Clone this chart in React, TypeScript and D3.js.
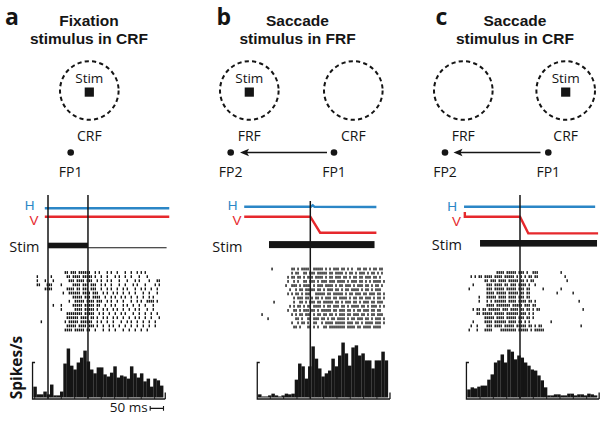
import React from 'react';
import * as d3 from 'd3';

// timing: histogram bins and raster columns, in ms
const BIN_MS = 12.5;
const RASTER_MS = 7.5;
const PX_PER_MS = 0.2665;
const TICK_MS = 50;
const SCALE_BAR_MS = 50;

// PSTH, spikes/s per bin (bracket = 100 spikes/s)
const HIST_A = [31, 9, 9, 17, 9, 37, 6, 6, 17, 97, 140, 91, 80, 100, 114, 134, 103, 80, 69, 86, 86, 66, 60, 71, 89, 57, 63, 60, 54, 89, 69, 57, 69, 46, 54, 31, 54, 49, 34];
const HIST_B = [9, 3, 3, 6, 11, 6, 3, 6, 11, 9, 11, 51, 97, 89, 54, 89, 146, 111, 83, 60, 69, 77, 111, 89, 120, 157, 126, 91, 143, 149, 120, 126, 106, 106, 83, 106, 106, 131, 106];
const HIST_C = [23, 29, 26, 31, 34, 34, 51, 66, 100, 106, 123, 100, 137, 131, 109, 120, 114, 100, 91, 80, 77, 63, 49, 29, 6, 6, 9, 9, 6, 6, 11, 11, 6, 9, 9, 6, 11, 9, 6];

// first bin edge relative to the alignment event (ms)
const START_A = -55;
const START_B = -196;
const START_C = -198;

// rasters: one string per trial, '|' = spike in a 7.5 ms column
const RASTER_A = [
  '................||.|||.||||||..|.|...|.|..|...|..|..|.|.|..........',
  '..|......|.......||.||||.|||||.|..|..|...|.|..|..|...|...|.........',
  '..|...|...|.......|||.||||.|||..|.|..|.|...|...|...|.|....|...||...',
  '..||...|||....|.....||||.|||.|||..|.|..|...|..|...|.|...|....|.|...',
  '......||||.......||||.||.|||.|||..|..|.|..|..|.|...|..|.|..|..|....',
  '...............|..||||||.||||.|||..|.|..|.|..|..|..|...|..|...|....',
  '....................|||||.|||.||||..|..|.|..|.|..|..|..|..|.|......',
  '..................|..|||||.||||.|||..|.|..|..|...|..|.|..||||.|....',
  '..........|...|.....|||||.|||||.||..|..|.|...|.|..|..|..|...|......',
  '..............|......||||.|||||.|..|.|..|.|..|..|..|.|...|..|......',
  '.................||||||||.|||||..|.|..|..|..|.|...|..|..|..|..|.....',
  '.................||||||.||||.||.|..|.|..|.|..|..|..|.|..|..|...|....',
  '....|...........|.|||||.||||||..|.|..|..|...|..|.|..|..|..|..|.....',
  '.................|||||.||||.|||.|..|..|.|..|..|..|..|..|..|..|......',
  '................||||.|||||.||..|...|..|..|...|..|..|..|..|.........',
];
const RASTER_B = [
  '.......|.........||.|.||||..|||||.|.|.|||.||.|.|..||.||.|.||.||..',
  '.................|.||..||.|||.|||||.||.||||.|.||.|.|||.|.||.|.|...',
  '...............|.||.||.|.|||.||||.|.||.|||.||.|.||.||.|||.||.|...',
  '...............|..|.|..||.|||.|.|||.|||.||||.|.|||.||.|.|.||||.|.',
  '..............|..|||.|.||||.|.|||.||||.|.||.|||.|.|||.||.|.||.|..',
  '................|..|.||.|||||.||.|.|||.||.|.||.||||.|.||.|.|||...',
  '...............|.|.||.|.|||..|||||.||.|||||.|.||.|||.||.|||.||.|.',
  '..................|.|||.||.|.||.|.|||.||.||||.|.||.||.|||.|.||.|.',
  '........|.........|..||.|.|||.||.|||||.||.|.|||.||.|.|||.||.|||..',
  '................|.|.||.|.||.||||.|.||.|||.||.|.||||.||.|.|||.|.|.',
  '...............|..||.|.|||.||.|.|||||.||.|||.||.|.||.|||.||.||...',
  '..|..............|.|.||.|||.|.||.||.||.|.|||.||.|||.||.|.||.|||..',
  '.....|.............||.|..||.|||.||.|.||.||||.|.||.|||.||.|.|||.|.',
  '.................|..|.||.|..||..|.||||.|||||.|||.||.|.||||.|||.|..',
  '..................||.|...||.|.|..||.||||||||.||||.||.||||.||||...',
];
const RASTER_C = [
  '...............||||.|||||.|||.|..|||...........|.................',
  '..|.|.||.||||.||||.|||||.|.|.|.||.||.............|...............',
  '.........||.|||.||||.|||||.||.|.||................|..............',
  '...|......|||.||||.||.|||.||||.|..|..............................',
  '.|........|||.|||||.|||||.|||.||......|........|.................',
  '..........||||.|||||.|||||.||.||.............|.......|...........',
  '......|...|||||.||||.||||.|||.||.................................',
  '......|...|.|.||||||.||||.||||.||.|.....................|........',
  '..........||||.|||||||.|||||.|||.||..............................',
  '...|.||.||.||||||.|||.||||.||.||.|.||.....................|......',
  '.....||.|||||.|||||.||||||.|||.|.|...............................',
  '.........|||||.||||.|||||.|||.||.|...............................',
  '...|.....||||.||||||.||||.||.|.|..........|......................',
  '..|..|....|||.||||.|||||.|||||.||.|.||...................|.......',
  '.|...|...||||....||||||||.|||||.|.|||||..........................',
];

// eye position traces [ms, deg]
const EYE_H_A: [number, number][] = [[-12, 0], [455, 0]];
const EYE_V_A: [number, number][] = [[-12, 0], [455, 0]];
const EYE_H_B: [number, number][] = [[-248, 0], [2, 0], [9, 0.9], [16, -0.1], [248, -0.2]];
const EYE_V_B: [number, number][] = [[-248, 0], [0, 0], [37, -10], [248, -10]];
const EYE_H_C: [number, number][] = [[-210, 0], [282, 0]];
const EYE_V_C: [number, number][] = [[-207, 3], [-207, 0], [0, 0], [31, -10.4], [293, -10.4]];

// stimulus on / off (ms), and the thin trace after offset in a
const STIM_ON = [0, -155, -150];
const STIM_OFF = [150, 241, 289];
const STIM_TAIL = [445, null, null];

// alignment events (vertical lines)
const EVENTS_A = [0, 150];
const EVENTS_B = [0];
const EVENTS_C = [0];

const FONT = "'Open Sans', 'Noto Sans', sans-serif";
const TIGHT_FONT = "'Liberation Sans', Arial, sans-serif";
const BLUE = '#2b86c6';
const RED = '#e6282c';
const INK = '#151515';
const BASE = 397.5;

const lower = [
  { zeroX: 48, start: START_A, hist: HIST_A, raster: RASTER_A, rTop: 272.5, rBot: 330, eyeH: EYE_H_A, eyeV: EYE_V_A,
    hY: 208.3, vY: 216.7, stimY: 245.5, stimH: 5.6, events: EVENTS_A, evTop: 195, labelX: 38.5, hLab: 209.6, vLab: 224.8, stimLab: 251.7, i: 0 },
  { zeroX: 310.3, start: START_B, hist: HIST_B, raster: RASTER_B, rTop: 269, rBot: 327, eyeH: EYE_H_B, eyeV: EYE_V_B,
    hY: 206.7, vY: 216.7, stimY: 244.6, stimH: 7, events: EVENTS_B, evTop: 201, labelX: 241.5, hLab: 209.6, vLab: 224.8, stimLab: 251.7, i: 1 },
  { zeroX: 520, start: START_C, hist: HIST_C, raster: RASTER_C, rTop: 272.5, rBot: 330, eyeH: EYE_H_C, eyeV: EYE_V_C,
    hY: 206.7, vY: 216.7, stimY: 243.3, stimH: 6.6, events: EVENTS_C, evTop: 195, labelX: 461, hLab: 210.8, vLab: 226.3, stimLab: 250, i: 2 },
];

const top = [
  { letter: 'a', letterX: 5, titleX: 89, title: ['Fixation', 'stimulus in CRF'],
    fields: [{ cx: 89.3, label: 'CRF', stim: true }], fps: [{ x: 70.7, label: 'FP1' }], arrow: null as null | [number, number] },
  { letter: 'b', letterX: 216.5, titleX: 297.5, title: ['Saccade', 'stimulus in FRF'],
    fields: [{ cx: 249.3, label: 'FRF', stim: true }, { cx: 353.3, label: 'CRF', stim: false }],
    fps: [{ x: 230.7, label: 'FP2' }, { x: 334, label: 'FP1' }], arrow: [327, 240] as [number, number] },
  { letter: 'c', letterX: 435.5, titleX: 515, title: ['Saccade', 'stimulus in CRF'],
    fields: [{ cx: 463.3, label: 'FRF', stim: false }, { cx: 565.7, label: 'CRF', stim: true }],
    fps: [{ x: 445, label: 'FP2' }, { x: 548.3, label: 'FP1' }], arrow: [540.5, 453.5] as [number, number] },
];

function Schematic({ p }: { p: typeof top[number] }) {
  const cy = 90.5;
  return (
    <g fontFamily={FONT} fill={INK}>
      <text x={p.letterX} y={25} fontSize={23} fontWeight={700}>{p.letter}</text>
      {p.title.map((t, j) => (
        <text key={j} x={p.titleX} y={26 + j * 17.5} fontFamily={TIGHT_FONT} fontSize={15.5}
          fontWeight={700} textAnchor="middle">{t}</text>
      ))}
      {p.fields.map((f, j) => (
        <g key={j}>
          <circle cx={f.cx} cy={cy} r={29.3} fill="none" stroke={INK} strokeWidth={2} strokeDasharray="4.2 3.2" />
          {f.stim && <text x={f.cx} y={83.3} fontSize={13.5} textAnchor="middle">Stim</text>}
          {f.stim && <rect x={f.cx - 4.6} y={87.5} width={9.2} height={9.2} />}
          <text x={f.cx} y={140.5} fontSize={14} textAnchor="middle">{f.label}</text>
        </g>
      ))}
      {p.fps.map((f, j) => (
        <g key={j}>
          <circle cx={f.x} cy={152.5} r={3.3} />
          <text x={f.x} y={176.5} fontSize={14} textAnchor="middle">{f.label}</text>
        </g>
      ))}
      {p.arrow && (
        <g>
          <line x1={p.arrow[0]} x2={p.arrow[1] + 6} y1={152.5} y2={152.5} stroke={INK} strokeWidth={1.6} />
          <path d={`M${p.arrow[1]},152.5 L${p.arrow[1] + 9},148.8 L${p.arrow[1] + 7},152.5 L${p.arrow[1] + 9},156.2 Z`} />
        </g>
      )}
    </g>
  );
}

function Lower({ p }: { p: typeof lower[number] }) {
  const tEnd = p.start + p.hist.length * BIN_MS;
  const x = d3.scaleLinear()
    .domain([p.start, tEnd])
    .range([p.zeroX + p.start * PX_PER_MS, p.zeroX + tEnd * PX_PER_MS]);
  const y = d3.scaleLinear().domain([0, 100]).range([BASE, BASE - 35]);
  const rowY = d3.scaleLinear().domain([0, p.raster.length - 1]).range([p.rTop, p.rBot]);
  const eye = (y0: number) => d3.scaleLinear().domain([0, 10]).range([y0, y0 - 16]);
  const hScale = eye(p.hY);
  const vScale = eye(p.vY);
  const lineH = d3.line<[number, number]>().x(d => x(d[0])).y(d => hScale(d[1]));
  const lineV = d3.line<[number, number]>().x(d => x(d[0])).y(d => vScale(d[1]));
  const ticks = d3.range(Math.ceil(p.start / TICK_MS) * TICK_MS, tEnd, TICK_MS);
  const x0 = x(p.start);
  const x1 = x(tEnd);
  const on = STIM_ON[p.i];
  const off = STIM_OFF[p.i];
  const tail = STIM_TAIL[p.i];

  return (
    <g fontFamily={FONT}>
      {/* eye traces */}
      <path d={lineH(p.eyeH) || ''} fill="none" stroke={BLUE} strokeWidth={2.4} />
      <path d={lineV(p.eyeV) || ''} fill="none" stroke={RED} strokeWidth={2.4} />
      <text x={p.labelX - 4} y={p.hLab} fontFamily={TIGHT_FONT} fontSize={13.5} fill={BLUE} textAnchor="end">H</text>
      <text x={p.labelX} y={p.vLab} fontFamily={TIGHT_FONT} fontSize={13.5} fill={RED} textAnchor="end">V</text>

      {/* stimulus */}
      <text x={p.labelX + 1} y={p.stimLab} fontSize={14.5} fill={INK} textAnchor="end">Stim</text>
      <rect x={x(on)} y={p.stimY - p.stimH / 2} width={x(off) - x(on)} height={p.stimH} fill={INK} />
      {tail != null && (
        <line x1={x(off)} x2={x(tail)} y1={p.stimY + p.stimH / 2 - 0.6} y2={p.stimY + p.stimH / 2 - 0.6} stroke={INK} strokeWidth={1.1} />
      )}

      {/* raster */}
      {p.raster.map((row, r) => (
        <g key={r}>
          {row.split('').map((c, j) => c === '|' ? (
            <rect key={j} x={x(p.start + j * RASTER_MS) - 0.7} y={rowY(r) - 1.4} width={1.4} height={2.8} fill={INK} />
          ) : null)}
        </g>
      ))}

      {/* histogram */}
      {p.hist.map((v, j) => {
        const a = x(p.start + j * BIN_MS);
        const b = x(p.start + (j + 1) * BIN_MS);
        return <rect key={j} x={a} y={y(v)} width={b - a + 0.15} height={BASE - y(v)} fill={INK} />;
      })}

      {/* axes */}
      <path d={`M${x0 - 0.8 + 2.5},${y(100)} H${x0 - 0.8} V${BASE + 1.5} H${x1 + 2}`} fill="none" stroke={INK} strokeWidth={1.3} />
      <line x1={x1 + 2} x2={x1 + 2} y1={BASE + 1.5} y2={BASE - 5} stroke={INK} strokeWidth={1.3} />
      {ticks.map(t => (
        <line key={t} x1={x(t)} x2={x(t)} y1={BASE + 1.5} y2={BASE - 1.5} stroke={INK} strokeWidth={0.9} />
      ))}

      {/* event lines */}
      {p.events.map(t => (
        <line key={t} x1={x(t)} x2={x(t)} y1={p.evTop} y2={BASE + 1} stroke={INK} strokeWidth={1.5} />
      ))}
    </g>
  );
}

export default function App() {
  const xa = d3.scaleLinear().domain([0, 1]).range([0, PX_PER_MS]);
  const barEnd = 163.5;
  const barStart = barEnd - xa(SCALE_BAR_MS);
  return (
    <svg width={604} height={423} viewBox="0 0 604 423"
      style={{ position: 'absolute', left: 0, top: 0, background: '#fff' }}>
      <rect width={604} height={423} fill="#fff" />
      {top.map((p, i) => <Schematic key={i} p={p} />)}
      {lower.map((p, i) => <Lower key={i} p={p} />)}
      <text transform={`translate(21.5, ${BASE - 30}) rotate(-90)`} textAnchor="middle"
        fontFamily={FONT} fontSize={15.5} fontWeight={700} fill={INK}>Spikes/s</text>
      <text x={barStart - 2.5} y={412} fontFamily={FONT} fontSize={13.5} textAnchor="end" fill={INK}>50 ms</text>
      <path d={`M${barStart},406 V410.8 M${barStart},408.4 H${barEnd} M${barEnd},406 V410.8`} stroke={INK} strokeWidth={1.1} fill="none" />
    </svg>
  );
}
